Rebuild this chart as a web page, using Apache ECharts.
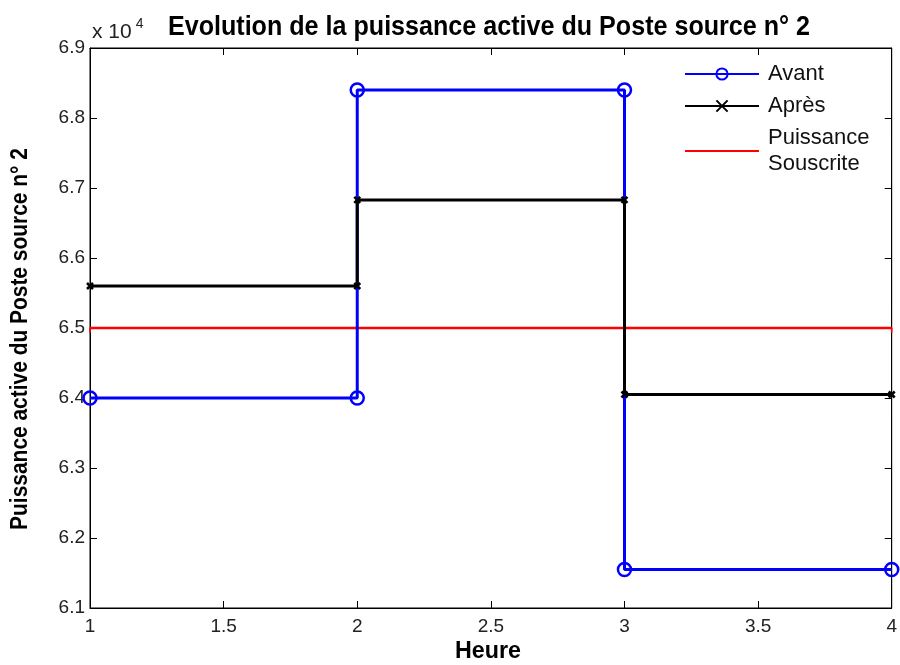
<!DOCTYPE html>
<html>
<head>
<meta charset="utf-8">
<script src="https://cdn.jsdelivr.net/npm/echarts@6/dist/echarts.min.js"></script>
<style>
  html, body { margin: 0; padding: 0; background: #fff; }
  #chart { width: 900px; height: 665px; }
</style>
</head>
<body>
<div id="chart"></div>
<script>
// Hourly active power at substation no. 2, before and after, against the subscribed power
const hours = [1, 2, 2, 3, 3, 4];
const avant = [64000, 64000, 68400, 68400, 61550, 61550];
const apres = [65600, 65600, 66830, 66830, 64050, 64050];
const souscriteHours = [1, 4];
const souscrite = [65000, 65000];
const xTicks = { min: 1, max: 4, interval: 0.5 };
const yTicks = { min: 61000, max: 69000, interval: 1000 };

const titleText = 'Evolution de la puissance active du Poste source n° 2';
const xName = 'Heure';
const yName = 'Puissance active du Poste source n° 2';
const seriesNames = ['Avant', 'Après', 'Puissance\nSouscrite'];

const FONT = "'Liberation Sans', Arial, sans-serif";

const pairs = (xs, ys) => xs.map((x, i) => [x, ys[i]]);

const chart = echarts.init(document.getElementById('chart'), null, { renderer: 'canvas' });

const tickInside = { show: true, inside: true, length: 7, lineStyle: { color: '#000', width: 1 } };
const boldText = (size) => ({ fontFamily: FONT, fontWeight: 'bold', fontSize: size, fill: '#000' });

chart.setOption({
  animation: false,
  backgroundColor: '#fff',
  graphic: [{
    // chart title, slightly condensed
    type: 'text', x: 489, y: 28, scaleX: 0.93,
    style: Object.assign({ text: titleText, align: 'center', verticalAlign: 'middle' }, boldText(27))
  }, {
    // horizontal axis name
    type: 'text', x: 488, y: 651, scaleX: 0.97,
    style: Object.assign({ text: xName, align: 'center', verticalAlign: 'middle' }, boldText(24))
  }, {
    // vertical axis name
    type: 'text', x: 21, y: 339, rotation: Math.PI / 2, scaleX: 0.91,
    style: Object.assign({ text: yName, align: 'center', verticalAlign: 'middle' }, boldText(23))
  }, {
    // exponent of the vertical scale
    type: 'text', left: 92, top: 17,
    style: {
      text: '{a|x 10}{s|4}',
      rich: {
        a: { fontFamily: FONT, fontSize: 21, fill: '#222', verticalAlign: 'bottom', lineHeight: 26 },
        s: { fontFamily: FONT, fontSize: 14, fill: '#222', verticalAlign: 'top', lineHeight: 26, padding: [0, 0, 14, 4] }
      }
    }
  }],
  legend: {
    left: 684, top: 61,
    padding: 0,
    orient: 'vertical',
    itemWidth: 74, itemHeight: 14, itemGap: 6,
    textStyle: { fontFamily: FONT, fontSize: 22, color: '#111', lineHeight: 26, padding: [0, 0, 0, 4] },
    data: [
      seriesNames[0],
      seriesNames[1],
      // subscribed power: plain red line in the key
      { name: seriesNames[2], itemStyle: { opacity: 0 } }
    ]
  },
  grid: {
    left: 90, right: 3, top: 48, bottom: 57,
    show: true, borderColor: '#000', borderWidth: 1, backgroundColor: '#fff'
  },
  xAxis: [{
    type: 'value',
    min: xTicks.min, max: xTicks.max, interval: xTicks.interval,
    axisLine: { show: true, onZero: false, lineStyle: { color: '#000' } },
    axisTick: tickInside,
    axisLabel: { fontFamily: FONT, fontSize: 19, color: '#222', margin: 9 },
    splitLine: { show: false }
  }, {
    type: 'value', position: 'top',
    min: xTicks.min, max: xTicks.max, interval: xTicks.interval,
    axisLine: { show: true, onZero: false, lineStyle: { color: '#000' } },
    axisTick: tickInside,
    axisLabel: { show: false },
    splitLine: { show: false }
  }],
  yAxis: [{
    type: 'value',
    min: yTicks.min, max: yTicks.max, interval: yTicks.interval,
    axisLine: { show: true, onZero: false, lineStyle: { color: '#000' } },
    axisTick: tickInside,
    axisLabel: {
      fontFamily: FONT, fontSize: 19, color: '#222', margin: 5,
      formatter: v => (v / 1e4).toFixed(1)
    },
    splitLine: { show: false }
  }, {
    type: 'value', position: 'right',
    min: yTicks.min, max: yTicks.max, interval: yTicks.interval,
    axisLine: { show: true, onZero: false, lineStyle: { color: '#000' } },
    axisTick: tickInside,
    axisLabel: { show: false },
    splitLine: { show: false }
  }],
  series: [{
    name: seriesNames[0],
    type: 'line',
    data: pairs(hours, avant),
    symbol: 'circle',
    symbolSize: 13,
    showAllSymbol: true,
    lineStyle: { color: '#0000ff', width: 3 },
    itemStyle: { color: 'rgba(255,255,255,0)', borderColor: '#0000ff', borderWidth: 2.5 },
    z: 3
  }, {
    name: seriesNames[1],
    type: 'line',
    data: pairs(hours, apres),
    symbol: 'path://M0,0L10,10M10,0L0,10',
    symbolSize: 6,
    showAllSymbol: true,
    lineStyle: { color: '#000', width: 3 },
    itemStyle: { color: '#000', borderColor: '#000', borderWidth: 2.5 },
    z: 4
  }, {
    name: seriesNames[2],
    type: 'line',
    data: pairs(souscriteHours, souscrite),
    symbol: 'path://M0,0L2,0L2,6L0,6Z',
    symbolKeepAspect: true,
    symbolSize: 5,
    symbolOffset: [0, 2],
    lineStyle: { color: '#ff0000', width: 2.5 },
    itemStyle: { color: '#ff0000', borderWidth: 0 },
    z: 2
  }]
});
</script>
</body>
</html>
